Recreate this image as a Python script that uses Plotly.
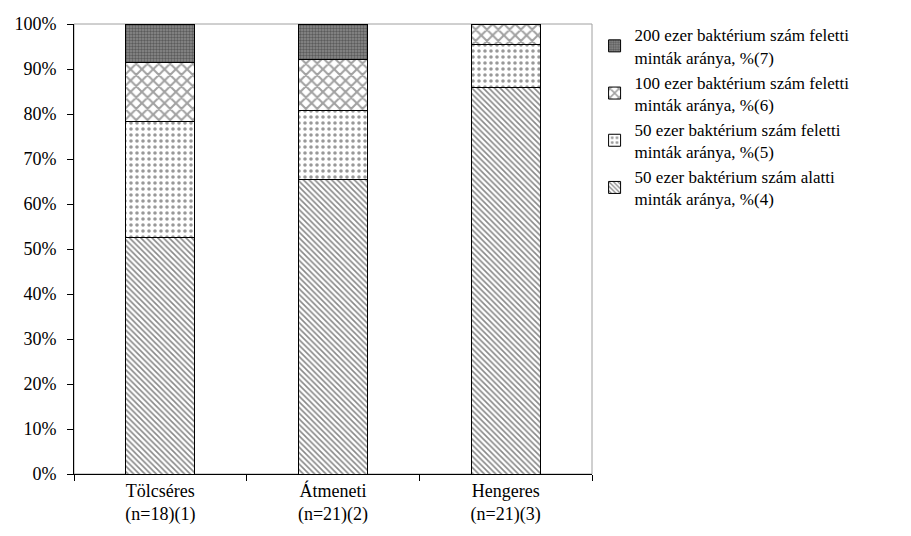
import plotly.graph_objects as go

categories = ["Tölcséres<br>(n=18)(1)", "Átmeneti<br>(n=21)(2)", "Hengeres<br>(n=21)(3)"]

below_50k = [52.6, 65.5, 86.0]
above_50k = [25.7, 15.3, 9.5]
above_100k = [13.1, 11.3, 4.5]
above_200k = [8.6, 7.9, 0.0]

series_names = [
    "50 ezer baktérium szám alatti<br>minták aránya, %(4)",
    "50 ezer baktérium szám feletti<br>minták aránya, %(5)",
    "100 ezer baktérium szám feletti<br>minták aránya, %(6)",
    "200 ezer baktérium szám feletti<br>minták aránya, %(7)",
]

FONT = "Liberation Serif"

styles = [
    dict(color="white", pattern=dict(shape="\\", fgcolor="#111111", size=4, solidity=0.4)),
    dict(color="white", pattern=dict(shape=".", fgcolor="#333333", size=6, solidity=0.28)),
    dict(color="white", pattern=dict(shape="x", fgcolor="#444444", size=8, solidity=0.45)),
    dict(color="#8c8c8c", pattern=dict(shape=".", fgcolor="#2a2a2a", size=3, solidity=0.5)),
]

fig = go.Figure()
for name, vals, st in zip(series_names, [below_50k, above_50k, above_100k, above_200k], styles):
    fig.add_trace(go.Bar(
        x=categories, y=vals, name=name,
        marker=dict(color=st["color"], pattern=st["pattern"],
                    line=dict(color="black", width=1)),
    ))

fig.update_layout(
    barmode="stack",
    bargap=0.6,
    width=911, height=536,
    margin=dict(l=74, r=319, t=24, b=62),
    paper_bgcolor="white", plot_bgcolor="white",
    font=dict(family=FONT, size=18, color="black"),
    showlegend=True,
    legend=dict(
        traceorder="reversed",
        x=1.005, xanchor="left", y=1.015, yanchor="top",
        font=dict(family=FONT, size=17, color="black"),
        itemwidth=30, tracegroupgap=0,
        bgcolor="rgba(0,0,0,0)",
    ),
    shapes=[dict(type="rect", xref="paper", yref="paper", x0=0, x1=1, y0=0, y1=1,
                 line=dict(color="#a0a0a0", width=1), layer="below")],
)

fig.update_xaxes(
    showline=True, linecolor="black", linewidth=1,
    ticks="outside", ticklen=6, tickcolor="black", tickson="boundaries",
    showgrid=False, tickfont=dict(family=FONT, size=18),
)
fig.update_yaxes(
    range=[0, 100], dtick=10, ticksuffix="%",
    showline=True, linecolor="black", linewidth=1,
    ticks="outside", ticklen=6, tickcolor="black",
    showgrid=False, zeroline=False, tickfont=dict(family=FONT, size=18),
    ticklabelstandoff=7,
)

fig.write_html("out.html")
